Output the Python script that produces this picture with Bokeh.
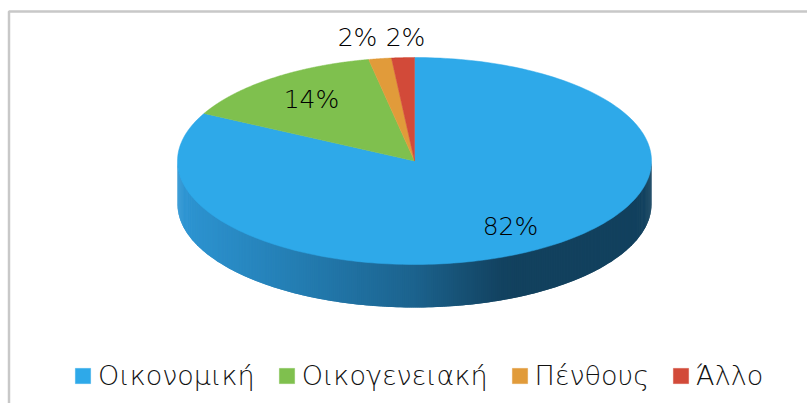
from bokeh.plotting import figure
from bokeh.models import Range1d, Legend, LegendItem
from bokeh.embed import file_html
from bokeh.resources import INLINE
from bokeh.core.properties import value
import numpy as np

categories = ["Οικονομική", "Οικογενειακή", "Πένθους", "Άλλο"]
shares = [82.6, 14.3, 1.55, 1.55]
labels = ["82%", "14%", "2%", "2%"]
colors = ["#2EA9E9", "#7FC04E", "#E19B3A", "#D24A39"]

W, H = 807, 403
CX, CY, RX, RY, DEPTH = 414, 160.5, 237, 103.5, 43
FONT = "DejaVu Sans Light"

p = figure(width=W, height=H, output_backend="svg", toolbar_location=None,
           x_range=Range1d(0, W), y_range=Range1d(H, 0),
           min_border=0, background_fill_color="white", border_fill_color="white",
           outline_line_color=None)
p.xaxis.visible = False
p.yaxis.visible = False
p.grid.visible = False

# frame
p.line([8.5, 8.5, W], [H, 11, 11], line_color="#C8C8C8", line_width=2.5)

# side of the disc, in strips by angle around the front
stops_x = [CX - RX, 300, 414, 500, 520, CX + RX]
stops_c = [(0x2E, 0x96, 0xD4), (0x24, 0x7D, 0xB2), (0x1C, 0x63, 0x8E), (0x13, 0x43, 0x61), (0x12, 0x41, 0x5E), (0x12, 0x41, 0x5E)]
ang = np.radians(np.arange(-90, 90.01, 0.5))
sx, sy, fills = [], [], []
step = ang[1] - ang[0]
for a in ang[:-1]:
    b = min(a + 2 * step, np.pi / 2)
    xa, xb = CX + RX * np.sin(a), CX + RX * np.sin(b)
    ya, yb = CY + RY * np.cos(a), CY + RY * np.cos(b)
    sx.append([xa, xb, xb, xa])
    sy.append([ya - 1, yb - 1, yb + DEPTH, ya + DEPTH])
    m = CX + RX * np.sin(a + step / 2)
    c = [int(np.interp(m, stops_x, [s[i] for s in stops_c])) for i in range(3)]
    fills.append("#%02x%02x%02x" % tuple(c))
p.patches(sx, sy, fill_color=fills, line_color=None)

# top of the disc: slices run clockwise from 12 o'clock
cum = np.cumsum([0] + shares) / sum(shares) * 2 * np.pi
rend = []
for i, c in enumerate(colors):
    t = np.linspace(cum[i], cum[i + 1], 240)
    xs = [CX] + list(CX + RX * np.sin(t))
    ys = [CY] + list(CY - RY * np.cos(t))
    rend.append(p.patch(xs, ys, fill_color=c, line_color=c, line_width=0.5))

# labels
lab_x = [510, 311, 357, 405]
lab_y = [226, 99, 37, 37]
p.text(lab_x, lab_y, text=labels, text_font=value(FONT), text_font_size="25px",
       text_align="center", text_baseline="middle", text_color="#000000")

legend = Legend(items=[LegendItem(label=n, renderers=[r]) for n, r in zip(categories, rend)],
                orientation="horizontal", location=(73, 12), border_line_color=None,
                background_fill_alpha=0, label_text_font=FONT, label_text_font_size="27px",
                label_text_color="#111111", glyph_width=19, glyph_height=19, spacing=22,
                label_standoff=6, padding=0, margin=0)
p.add_layout(legend)

open("out.html", "w").write(file_html(p, INLINE))
